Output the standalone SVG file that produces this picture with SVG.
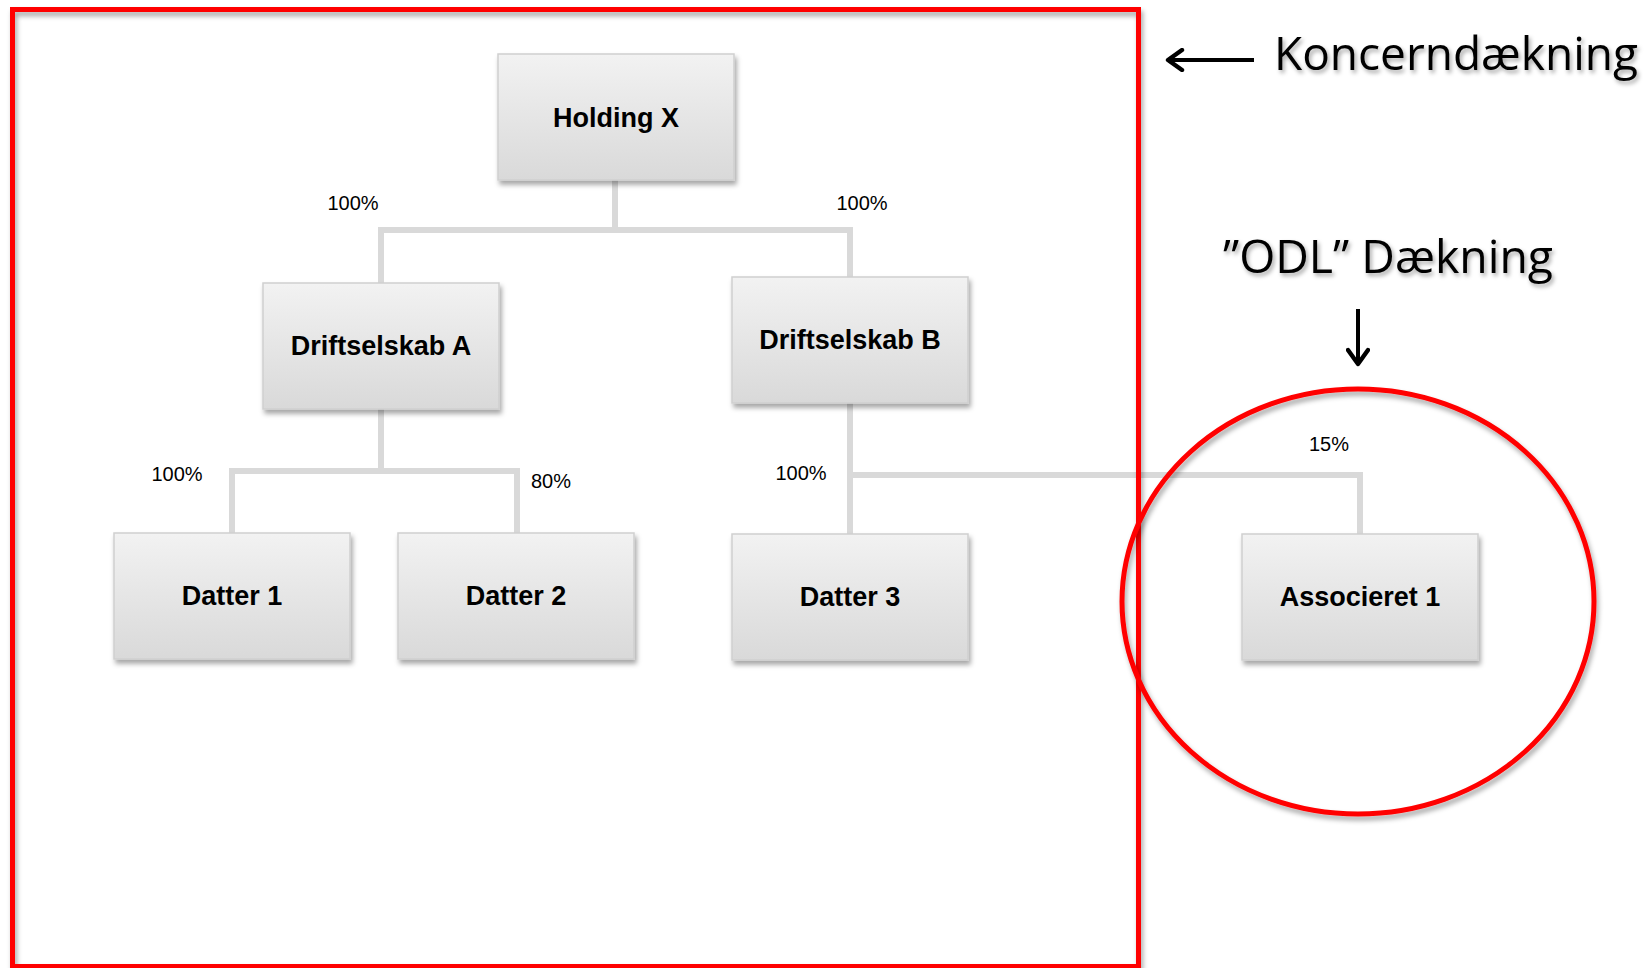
<svg xmlns="http://www.w3.org/2000/svg" width="1644" height="968" viewBox="0 0 1644 968">
<defs>
<linearGradient id="boxg" x1="0" y1="0" x2="0" y2="1">
<stop offset="0" stop-color="#f2f2f2"/>
<stop offset="1" stop-color="#d9d9d9"/>
</linearGradient>
<filter id="sh" x="-10%" y="-10%" width="130%" height="130%">
<feDropShadow dx="2" dy="4" stdDeviation="2.5" flood-color="#000" flood-opacity="0.35"/>
</filter>
<filter id="tsh" x="-10%" y="-20%" width="120%" height="150%">
<feDropShadow dx="2" dy="3" stdDeviation="2" flood-color="#000" flood-opacity="0.35"/>
</filter>
<marker id="ah" viewBox="0 0 12 12" refX="10" refY="6" markerWidth="6" markerHeight="6" orient="auto" markerUnits="strokeWidth">
<path d="M3,1 L10,6 L3,11" fill="none" stroke="#000" stroke-width="2.2" stroke-linecap="round" stroke-linejoin="round"/>
</marker>
</defs>
<style>
.box{fill:url(#boxg);stroke:#cfcfcf;stroke-width:1.5;filter:url(#sh)}
.lbl{font-family:"Liberation Sans",Arial,sans-serif;font-weight:bold;font-size:27px;fill:#000;text-anchor:middle}
.pct{font-family:"Liberation Sans",Arial,sans-serif;font-size:20px;fill:#000;text-anchor:middle}
.con{fill:none;stroke:#d9d9d9;stroke-width:6;stroke-linejoin:miter}
.big{font-family:"Open Sans","Liberation Sans",sans-serif;font-size:46px;fill:#000;filter:url(#tsh)}
.red{fill:none;stroke:#ff0000;stroke-width:5;filter:url(#sh)}
.arr{stroke:#000;stroke-width:4;fill:none}
</style>
<rect width="1644" height="968" fill="#ffffff"/>

<g id="connectors">
<path class="con" d="M615,180 V230"/>
<path class="con" d="M381,283 V230 H850 V277"/>
<path class="con" d="M381,409 V471"/>
<path class="con" d="M232,533 V471 H517 V533"/>
<path class="con" d="M850,403 V534"/>
<path class="con" d="M850,475 H1360 V534"/>
</g>

<g id="labels">
<text class="pct" x="353" y="210">100%</text>
<text class="pct" x="862" y="210">100%</text>
<text class="pct" x="177" y="481">100%</text>
<text class="pct" x="551" y="488">80%</text>
<text class="pct" x="801" y="480">100%</text>
<text class="pct" x="1329" y="451">15%</text>
</g>

<g id="holding-x"><rect class="box" x="498" y="54" width="236" height="126"/><text class="lbl" x="616" y="127">Holding X</text></g>
<g id="driftselskab-a"><rect class="box" x="263" y="283" width="236" height="126"/><text class="lbl" x="381" y="355">Driftselskab A</text></g>
<g id="driftselskab-b"><rect class="box" x="732" y="277" width="236" height="126"/><text class="lbl" x="850" y="349">Driftselskab B</text></g>
<g id="datter-1"><rect class="box" x="114" y="533" width="236" height="126"/><text class="lbl" x="232" y="605">Datter 1</text></g>
<g id="datter-2"><rect class="box" x="398" y="533" width="236" height="126"/><text class="lbl" x="516" y="605">Datter 2</text></g>
<g id="datter-3"><rect class="box" x="732" y="534" width="236" height="126"/><text class="lbl" x="850" y="606">Datter 3</text></g>
<g id="associeret-1"><rect class="box" x="1242" y="534" width="236" height="126"/><text class="lbl" x="1360" y="606">Associeret 1</text></g>

<g id="koncern-frame"><rect class="red" x="12.5" y="9.5" width="1126" height="957"/></g>
<g id="odl-circle"><ellipse class="red" cx="1358" cy="601.5" rx="236" ry="212.5"/></g>

<g id="koncern-label">
<line class="arr" x1="1254" y1="60" x2="1168" y2="60" marker-end="url(#ah)"/>
<text class="big" x="1274" y="70" textLength="364" lengthAdjust="spacingAndGlyphs">Koncerndækning</text>
</g>
<g id="odl-label">
<text class="big" x="1223" y="273" textLength="330" lengthAdjust="spacingAndGlyphs">”ODL” Dækning</text>
<line class="arr" x1="1358" y1="309" x2="1358" y2="364" marker-end="url(#ah)"/>
</g>
</svg>
